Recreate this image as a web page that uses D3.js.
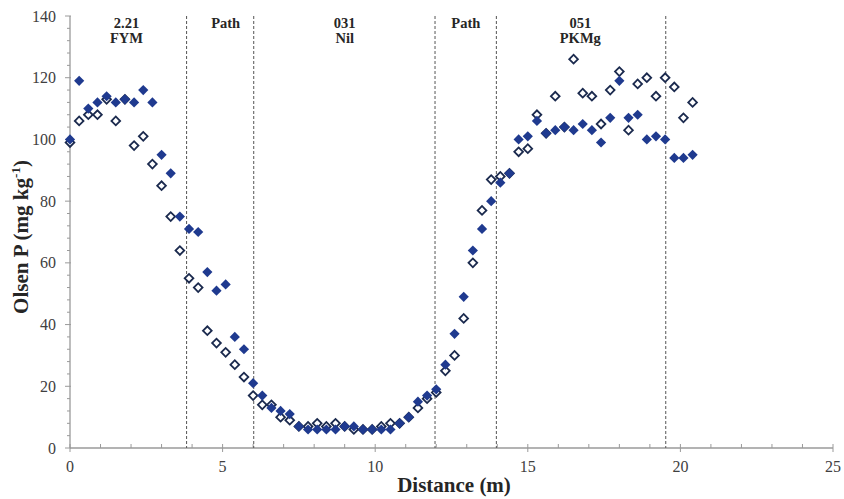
<!DOCTYPE html>
<html>
<head>
<meta charset="utf-8">
<script src="https://cdn.jsdelivr.net/npm/d3@7"></script>
<style>
  body { margin: 0; background: #fff; }
  svg { display: block; }
  .tick-label { font-family: "Liberation Serif", "Times New Roman", serif; font-size: 16px; fill: #404040; }
  .axis-title { font-family: "Liberation Serif", "Times New Roman", serif; font-size: 21px; font-weight: bold; fill: #262626; }
  .zone-label { font-family: "Liberation Serif", "Times New Roman", serif; font-size: 14.5px; font-weight: bold; fill: #262626; }
</style>
</head>
<body>
<div id="wrapper"></div>
<script>
// distances along the transect (m)
const distance = [
  0, 0.3, 0.6, 0.9, 1.2, 1.5, 1.8, 2.1, 2.4, 2.7,
  3.0, 3.3, 3.6, 3.9, 4.2, 4.5, 4.8, 5.1, 5.4, 5.7,
  6.0, 6.3, 6.6, 6.9, 7.2, 7.5, 7.8, 8.1, 8.4, 8.7,
  9.0, 9.3, 9.6, 9.9, 10.2, 10.5, 10.8, 11.1, 11.4, 11.7,
  12.0, 12.3, 12.6, 12.9, 13.2, 13.5, 13.8, 14.1, 14.4, 14.7,
  15.0, 15.3, 15.6, 15.9, 16.2, 16.5, 16.8, 17.1, 17.4, 17.7,
  18.0, 18.3, 18.6, 18.9, 19.2, 19.5, 19.8, 20.1, 20.4
]

// Olsen P, filled markers
const olsenFilled = [
  100, 119, 110, 112, 114, 112, 113, 112, 116, 112,
  95, 89, 75, 71, 70, 57, 51, 53, 36, 32,
  21, 17, 13, 12, 11, 7, 6, 6, 6, 6,
  7, 7, 6, 6, 6, 6, 8, 10, 15, 17,
  19, 27, 37, 49, 64, 71, 80, 86, 89, 100,
  101, 106, 102, 103, 104, 103, 105, 103, 99, 107,
  119, 107, 108, 100, 101, 100, 94, 94, 95
]

// Olsen P, open markers
const olsenOpen = [
  99, 106, 108, 108, 113, 106, 113, 98, 101, 92,
  85, 75, 64, 55, 52, 38, 34, 31, 27, 23,
  17, 14, 14, 10, 9, 7, 7, 8, 7, 8,
  7, 6, 6, 6, 7, 8, 8, 10, 13, 16,
  18, 25, 30, 42, 60, 77, 87, 88, 89, 96,
  97, 108, 102, 114, 104, 126, 115, 114, 105, 116,
  122, 103, 118, 120, 114, 120, 117, 107, 112
]

// plot boundaries and the treatment labels above them
const boundaries = [3.82, 6.02, 11.96, 13.97, 19.52]
const zoneCentres = [1.85, 5.1, 9.0, 12.97, 16.72]
const zoneLines1 = ["2.21", "Path", "031", "Path", "051"]
const zoneLines2 = ["FYM", "", "Nil", "", "PKMg"]

const xTicks = [0, 5, 10, 15, 20, 25]
const yTicks = [0, 20, 40, 60, 80, 100, 120, 140]

function drawChart() {

  // 1. Chart dimensions
  let dimensions = {
    width: 844,
    height: 499,
    margin: { top: 16, right: 11, bottom: 51, left: 70 },
  }
  dimensions.boundedWidth = dimensions.width - dimensions.margin.left - dimensions.margin.right
  dimensions.boundedHeight = dimensions.height - dimensions.margin.top - dimensions.margin.bottom

  // 2. Canvas
  const wrapper = d3.select("#wrapper")
    .append("svg")
      .attr("width", dimensions.width)
      .attr("height", dimensions.height)

  const bounds = wrapper.append("g")
    .attr("transform", `translate(${dimensions.margin.left},${dimensions.margin.top})`)

  // 3. Scales
  const xScale = d3.scaleLinear()
    .domain([0, 25])
    .range([0, dimensions.boundedWidth])

  const yScale = d3.scaleLinear()
    .domain([0, 140])
    .range([dimensions.boundedHeight, 0])

  // 4. Axes
  const axisColor = "#9a9a9a"

  const xAxis = bounds.append("g")
    .attr("transform", `translate(0,${dimensions.boundedHeight})`)

  xAxis.append("line")
    .attr("x1", 0).attr("x2", dimensions.boundedWidth)
    .attr("stroke", axisColor).attr("stroke-width", 1.3)

  // minor x ticks every 1 m (inside)
  xAxis.selectAll(".minor")
    .data(d3.range(0, 26).filter(d => d % 5 != 0))
    .join("line")
      .attr("x1", d => xScale(d)).attr("x2", d => xScale(d))
      .attr("y1", -4).attr("y2", 0)
      .attr("stroke", axisColor)

  xAxis.selectAll(".major")
    .data(xTicks)
    .join("line")
      .attr("x1", d => xScale(d)).attr("x2", d => xScale(d))
      .attr("y1", -4).attr("y2", 4)
      .attr("stroke", axisColor)

  xAxis.selectAll("text")
    .data(xTicks)
    .join("text")
      .attr("class", "tick-label")
      .attr("x", d => xScale(d))
      .attr("y", 24)
      .attr("text-anchor", "middle")
      .text(d => d)

  const yAxis = bounds.append("g")

  yAxis.append("line")
    .attr("y1", 0).attr("y2", dimensions.boundedHeight)
    .attr("stroke", axisColor).attr("stroke-width", 1.3)

  // minor y ticks every 4 units
  yAxis.selectAll(".minor")
    .data(d3.range(0, 141, 4).filter(d => d % 20 != 0))
    .join("line")
      .attr("y1", d => yScale(d)).attr("y2", d => yScale(d))
      .attr("x1", -3).attr("x2", 0)
      .attr("stroke", axisColor)

  yAxis.selectAll(".major")
    .data(yTicks)
    .join("line")
      .attr("y1", d => yScale(d)).attr("y2", d => yScale(d))
      .attr("x1", -5).attr("x2", 1)
      .attr("stroke", axisColor)

  yAxis.selectAll("text")
    .data(yTicks)
    .join("text")
      .attr("class", "tick-label")
      .attr("x", -14)
      .attr("y", d => yScale(d) + 5.5)
      .attr("text-anchor", "end")
      .text(d => d)

  // 5. Boundaries + zone labels
  bounds.append("g")
    .selectAll("line")
    .data(boundaries)
    .join("line")
      .attr("x1", d => xScale(d)).attr("x2", d => xScale(d))
      .attr("y1", yScale(140)).attr("y2", dimensions.boundedHeight)
      .attr("stroke", "#555")
      .attr("stroke-width", 1)
      .attr("stroke-dasharray", "3,2")

  const zones = bounds.append("g")
  zones.selectAll(".l1")
    .data(zoneCentres)
    .join("text")
      .attr("class", "zone-label")
      .attr("x", d => xScale(d))
      .attr("y", 12)
      .attr("text-anchor", "middle")
      .text((d, i) => zoneLines1[i])

  zones.selectAll(".l2")
    .data(zoneCentres)
    .join("text")
      .attr("class", "zone-label")
      .attr("x", d => xScale(d))
      .attr("y", 27)
      .attr("text-anchor", "middle")
      .text((d, i) => zoneLines2[i])

  // 6. Data
  const openSymbol = d3.symbol().type(d3.symbolSquare).size(38)
  const filledSymbol = d3.symbol().type(d3.symbolSquare).size(52)

  bounds.append("g")
    .selectAll("path")
    .data(distance)
    .join("path")
      .attr("d", openSymbol)
      .attr("transform", (d, i) => `translate(${xScale(d)},${yScale(olsenOpen[i])}) rotate(45)`)
      .attr("fill", "#fff")
      .attr("stroke", "#1b2a4e")
      .attr("stroke-width", 1.8)

  bounds.append("g")
    .selectAll("path")
    .data(distance)
    .join("path")
      .attr("d", filledSymbol)
      .attr("transform", (d, i) => `translate(${xScale(d)},${yScale(olsenFilled[i])}) rotate(45)`)
      .attr("fill", "#1f3a8f")

  // 7. Titles
  wrapper.append("text")
    .attr("class", "axis-title")
    .attr("x", 454)
    .attr("y", 492)
    .attr("text-anchor", "middle")
    .text("Distance (m)")

  const yTitle = wrapper.append("text")
    .attr("class", "axis-title")
    .attr("transform", "translate(28,237) rotate(-90)")
    .attr("text-anchor", "middle")
  yTitle.append("tspan").text("Olsen P (mg kg")
  yTitle.append("tspan")
    .attr("font-size", "13px")
    .attr("dy", -8)
    .text("-1")
  yTitle.append("tspan")
    .attr("dy", 8)
    .text(")")
}

drawChart()
</script>
</body>
</html>
